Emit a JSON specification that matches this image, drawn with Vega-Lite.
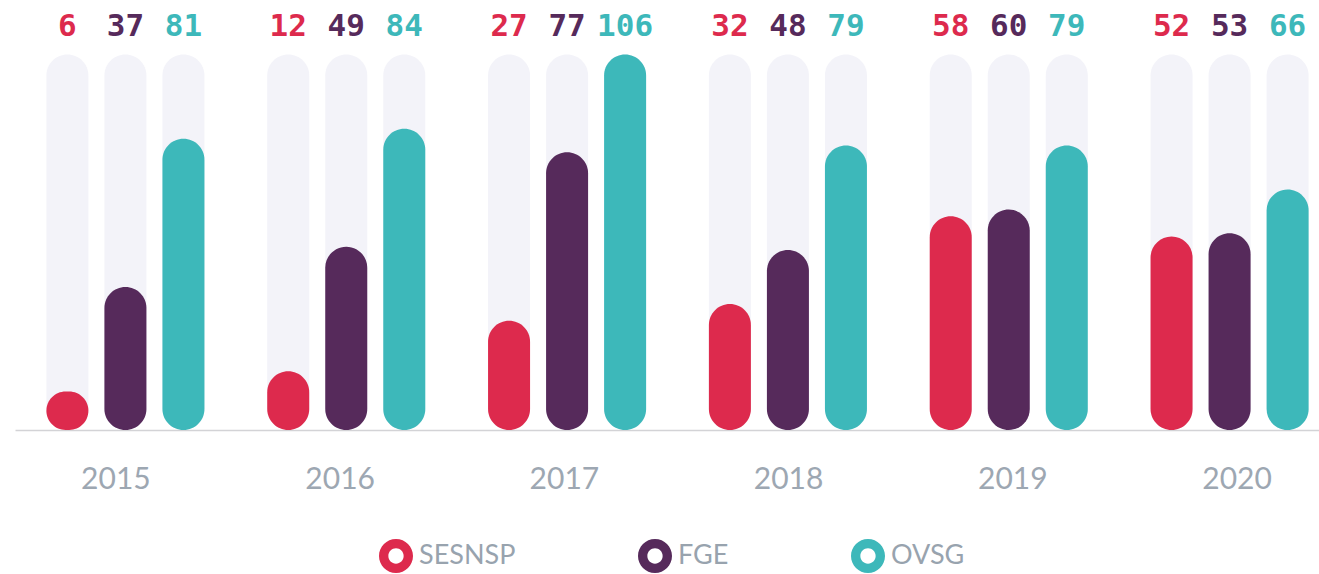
{
  "$schema": "https://vega.github.io/schema/vega-lite/v6.json",
  "autosize": "none",
  "width": 1304,
  "height": 430,
  "padding": {"left": 15, "top": 0, "right": 0, "bottom": 144},
  "background": "white",
  "data": {
    "values": [
      {"year": "2015", "source": "SESNSP", "value": 6},
      {"year": "2015", "source": "FGE", "value": 37},
      {"year": "2015", "source": "OVSG", "value": 81},
      {"year": "2016", "source": "SESNSP", "value": 12},
      {"year": "2016", "source": "FGE", "value": 49},
      {"year": "2016", "source": "OVSG", "value": 84},
      {"year": "2017", "source": "SESNSP", "value": 27},
      {"year": "2017", "source": "FGE", "value": 77},
      {"year": "2017", "source": "OVSG", "value": 106},
      {"year": "2018", "source": "SESNSP", "value": 32},
      {"year": "2018", "source": "FGE", "value": 48},
      {"year": "2018", "source": "OVSG", "value": 79},
      {"year": "2019", "source": "SESNSP", "value": 58},
      {"year": "2019", "source": "FGE", "value": 60},
      {"year": "2019", "source": "OVSG", "value": 79},
      {"year": "2020", "source": "SESNSP", "value": 52},
      {"year": "2020", "source": "FGE", "value": 53},
      {"year": "2020", "source": "OVSG", "value": 66}
    ]
  },
  "encoding": {
    "x": {
      "field": "year",
      "type": "nominal",
      "title": null,
      "scale": {"range": [0, 1325], "paddingInner": 0, "paddingOuter": 0},
      "axis": {
        "ticks": false,
        "domain": true,
        "domainColor": "#D3D3D6",
        "domainWidth": 1.5,
        "labelAngle": 0,
        "labelFont": "Lato",
        "labelFontSize": 30,
        "labelColor": "#9DA7B2",
        "labelPadding": 34,
        "labelOffset": {"expr": "(toNumber(datum.value) - 2015) * 3.4 - 9.5"}
      }
    },
    "xOffset": {
      "field": "source",
      "type": "nominal",
      "sort": ["SESNSP", "FGE", "OVSG"],
      "scale": {"domain": ["SESNSP", "FGE", "OVSG"], "paddingInner": 0.276, "paddingOuter": 0.541}
    }
  },
  "layer": [
    {
      "mark": {"type": "bar", "cornerRadius": 21, "color": "#F3F3F9"},
      "encoding": {
        "y": {"datum": 106, "type": "quantitative", "scale": {"domain": [-5.4, 122.2], "zero": false, "nice": false}, "axis": null},
        "y2": {"datum": -5.4}
      }
    },
    {
      "mark": {"type": "bar", "cornerRadius": 21},
      "encoding": {
        "y": {"field": "value", "type": "quantitative"},
        "y2": {"datum": -5.4},
        "color": {
          "field": "source",
          "type": "nominal",
          "scale": {"domain": ["SESNSP", "FGE", "OVSG"], "range": ["#DD2A4D", "#562A5B", "#3DB8BA"]},
          "legend": {
            "title": null,
            "orient": "none",
            "legendX": 364,
            "legendY": 539,
            "direction": "horizontal",
            "padding": 0,
            "columnPadding": 122,
            "symbolType": "M -1 0 A 1 1 0 1 1 1 0 A 1 1 0 1 1 -1 0 Z M -0.45 0 A 0.45 0.45 0 1 0 0.45 0 A 0.45 0.45 0 1 0 -0.45 0 Z",
            "symbolSize": 1156,
            "symbolStrokeWidth": 0,
            "symbolOpacity": 1,
            "labelFont": "Lato",
            "labelFontSize": 27,
            "labelColor": "#98A3AE",
            "labelOffset": 6
          }
        }
      }
    },
    {
      "mark": {"type": "text", "font": "DejaVu Sans Mono", "fontWeight": "bold", "fontSize": 31, "baseline": "alphabetic", "align": "center"},
      "encoding": {
        "y": {"datum": 111.5},
        "text": {"field": "value", "type": "quantitative"},
        "color": {"field": "source", "type": "nominal"}
      }
    }
  ],
  "config": {
    "view": {"stroke": null},
    "axis": {"grid": false}
  }
}
